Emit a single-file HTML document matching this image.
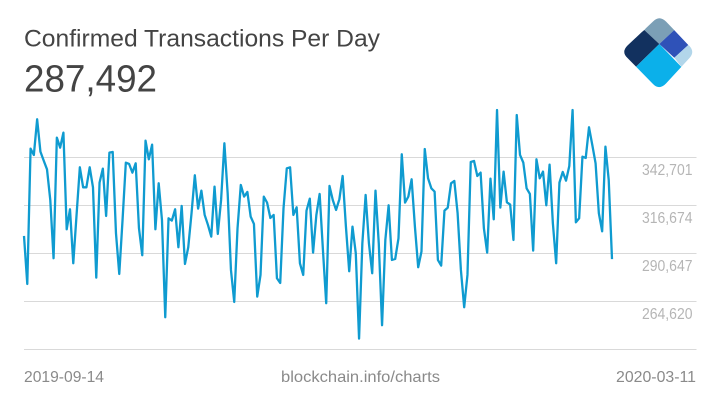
<!DOCTYPE html>
<html lang="en">
<head>
<meta charset="utf-8">
<title>Confirmed Transactions Per Day</title>
<style>
html,body{margin:0;padding:0;background:#fff;width:720px;height:405px;overflow:hidden}
svg{display:block}
text{font-family:"Liberation Sans",sans-serif}
</style>
</head>
<body>
<svg id="chart" xmlns="http://www.w3.org/2000/svg" width="720" height="405" viewBox="0 0 720 405">
  <rect width="720" height="405" fill="#ffffff"/>
  <text x="24" y="46.5" font-size="24.5" fill="#444444" textLength="356" lengthAdjust="spacingAndGlyphs">Confirmed Transactions Per Day</text>
  <text x="24" y="91.5" font-size="38" fill="#444444" textLength="133" lengthAdjust="spacingAndGlyphs">287,492</text>
  <g>
    <clipPath id="logo-clip"><path d="M653,21.5 Q659.3,15 666,21.5 L689.5,46 Q695,52 689.5,58 L666,83.5 Q659.3,90.5 653,84 L627.5,58 Q621,52 627.5,45.5 Z"/></clipPath>
    <g clip-path="url(#logo-clip)">
      <polygon points="659.3,10 674.3,30 659.3,44 644.3,30" fill="#7b9fb6"/>
      <polygon points="644.3,30 659.3,44 636,66.7 615,52" fill="#12315f"/>
      <polygon points="659.3,44 682.7,68.3 659.3,95 636,66.7" fill="#0bb0ea"/>
      <polygon points="674.3,30 688.3,45 674.3,57.7 659.3,44" fill="#2f52b8"/>
      <polygon points="688.3,45 700,52 682.7,68.3 674.3,57.7" fill="#b2d6ea"/>
    </g>
  </g>
  <g id="grid"></g>
  <g id="labels"></g>
  <path id="series" fill="none" stroke="#0f9bd0" stroke-width="2.3" stroke-linejoin="round" stroke-linecap="butt"/>
  <text id="date-start" x="24" y="382" font-size="16" fill="#8a8a8a" textLength="80" lengthAdjust="spacingAndGlyphs"></text>
  <text x="281" y="382" font-size="16" fill="#8a8a8a" textLength="159" lengthAdjust="spacingAndGlyphs">blockchain.info/charts</text>
  <text id="date-end" x="616" y="382" font-size="16" fill="#8a8a8a" textLength="80" lengthAdjust="spacingAndGlyphs"></text>
</svg>
<script>
const dateRange = ['2019-09-14', '2020-03-11'];
const yTicks = [342701, 316674, 290647, 264620, 238593];
const yTickLabels = ['342,701', '316,674', '290,647', '264,620', ''];
const transactions = [
300055,274035,347399,343966,363300,345772,340894,336196,319571,287948,
353362,347941,356072,303670,314511,285238,311440,337280,326438,326438,
337280,326438,277468,328967,336557,310897,345230,345592,301501,279456,
308729,339809,339087,334388,339448,304211,289575,351736,341616,349567,
303670,328606,308729,255965,309632,308368,314511,293912,316318,284877,
293912,312343,332943,314873,324631,311440,306019,299694,326799,301140,
319571,350290,323185,281624,264277,304211,327703,321378,323908,310536,
306561,267168,278914,321378,318125,309814,311440,277107,274577,315054,
336737,337280,311440,315596,285238,278914,313788,320294,291020,311440,
322824,292466,263554,327160,319571,314150,319932,332581,305115,280901,
305115,290659,244400,296080,322282,296080,279817,324631,296080,251628,
297887,316680,287045,287587,298790,344327,318125,321378,330775,305115,
283068,291562,347218,331317,325896,324089,287045,283973,313788,315415,
328606,329871,312343,281624,261386,278914,340171,340713,332581,334388,
304211,291020,331136,309090,368360,315415,334930,318306,317041,297887,
365650,343966,339809,325896,322824,292105,341616,331317,334930,316680,
338725,306922,285238,328967,334750,330052,338002,368360,307464,309632,
343062,342339,358964,349387,339448,312343,302585,348483,330413,287492
];

const NS = 'http://www.w3.org/2000/svg';
function xScale(i) {
  return 24 + i / (transactions.length - 1) * 588;
}
function yScale(v) {
  return 157.3 + (yTicks[0] - v) / (yTicks[0] - yTicks[1]) * 48;
}

const grid = document.getElementById('grid');
const labels = document.getElementById('labels');
yTicks.forEach(function (tick, k) {
  const y = Math.round(yScale(tick)) + 0.5;
  const line = document.createElementNS(NS, 'line');
  
  
  line.setAttribute('x1', 24);
  line.setAttribute('x2', 696.5);
  line.setAttribute('y1', y);
  line.setAttribute('y2', y);
  line.setAttribute('stroke', '#d9d9d9');
  line.setAttribute('stroke-width', 1);
  grid.appendChild(line);
  if (yTickLabels[k]) {
    const t = document.createElementNS(NS, 'text');
    
    
    t.setAttribute('x', 642);
    t.setAttribute('y', y + 17.5);
    t.setAttribute('font-size', 16);
    t.setAttribute('fill', '#b5b5b5');
    t.setAttribute('textLength', 50.5);
    t.setAttribute('lengthAdjust', 'spacingAndGlyphs');
    t.textContent = yTickLabels[k];
    labels.appendChild(t);
  }
});

document.getElementById('series').setAttribute('d', transactions.map(function (v, i) {
  return (i ? 'L' : 'M') + xScale(i).toFixed(2) + ',' + yScale(v).toFixed(2);
}).join(' '));
document.getElementById('date-start').textContent = dateRange[0];
document.getElementById('date-end').textContent = dateRange[1];
</script>
</body>
</html>
